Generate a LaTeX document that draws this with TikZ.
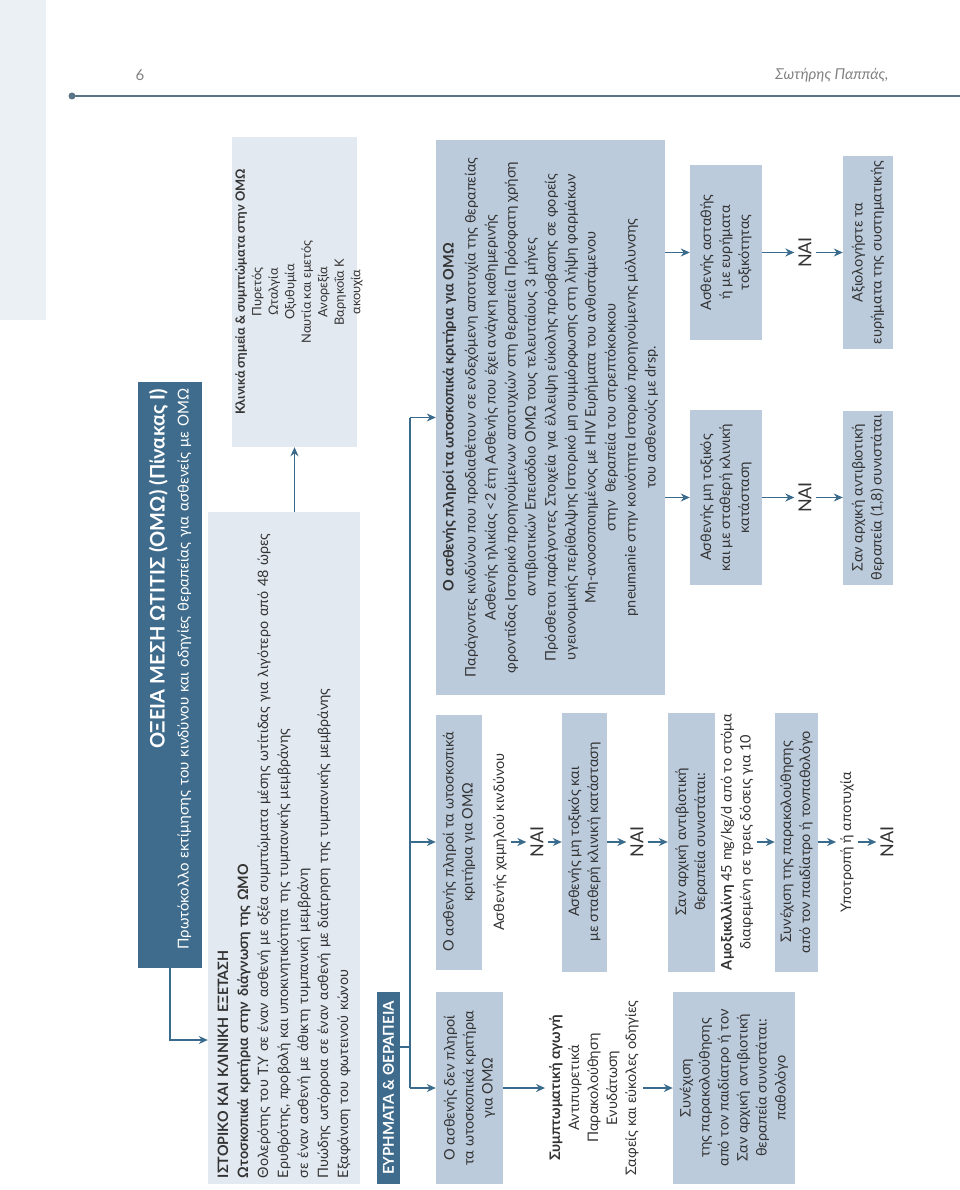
\documentclass[tikz,border=0pt]{standalone}
\usepackage{fontspec}
\setmainfont{Lato}
\usetikzlibrary{arrows.meta}

\definecolor{slate}{HTML}{3F6C8C}
\definecolor{flow}{HTML}{3A6B8C}
\definecolor{frost}{HTML}{BCCBDC}
\definecolor{mist}{HTML}{E3E9F0}
\definecolor{ink}{HTML}{333333}
\definecolor{rulec}{HTML}{5B7486}

\begin{document}
\begin{tikzpicture}[x=1pt,y=1pt,
  every node/.style={text=ink},
  card/.style={rotate=90,fill=frost,align=center,inner sep=0pt,font=\fontsize{14.5}{19}\selectfont},
  band/.style={rotate=90,fill=slate,text=white,inner sep=0pt},
  sheet/.style={rotate=90,fill=mist,inner sep=0pt},
  note/.style={rotate=90,align=center,inner sep=4pt,font=\fontsize{14.5}{19}\selectfont},
  yes/.style={rotate=90,inner sep=4pt,font=\fontsize{18}{20}\selectfont},
  link/.style={draw=flow,line width=1.4pt},
  arr/.style={link,-{Stealth[length=9pt,width=8pt]}}]
  \useasboundingbox (0,0) rectangle (960,-1190);
  \fill[mist!70] (0,0) rectangle (46,-320);
  \draw[rulec,line width=2.5pt] (72,-96) -- (960,-96);
  \fill[rulec] (72,-96) circle (3.5);
  \node[text=gray,font=\fontsize{15}{18}\selectfont] (page) at (140,-75) {6};
  \node[text=gray,font=\itshape\fontsize{15}{18}\selectfont,anchor=east] (author) at (892,-75) {Σωτήρης Παππάς,};

  \node[band,minimum width=586,minimum height=64,text width=572,align=right,font=\fontsize{15}{24}\selectfont] (title) at (170,-675)
    {{\fontsize{20}{24}\selectfont\bfseries ΟΞΕΙΑ ΜΕΣΗ ΩΤΙΤΙΣ (ΟΜΩ) (Πίνακας Ι)}\\
     Πρωτόκολλο εκτίμησης του κινδύνου και οδηγίες θεραπείας για ασθενείς με ΟΜΩ};
  \node[sheet,minimum width=672,minimum height=152,text width=660,align=left,font=\fontsize{14.3}{20}\selectfont] (hist) at (284,-848)
    {{\bfseries ΙΣΤΟΡΙΚΟ ΚΑΙ ΚΛΙΝΙΚΗ ΕΞΕΤΑΣΗ}\\
     {\bfseries Ωτοσκοπικά κριτήρια στην διάγνωση της ΩΜΟ}\\
     Θολερότης του Τ.Υ σε έναν ασθενή με οξέα συμπτώματα μέσης ωτίτιδας για λιγότερο από 48 ώρες\\
     Ερυθρότης, προβολή και υποκινητικότητα της τυμπανικής μεμβράνης\\
     σε έναν ασθενή με άθικτη τυμπανική μεμβράνη\\
     Πυώδης ωτόρροια σε έναν ασθενή με διάτρηση της τυμπανικής μεμβράνης\\
     Εξαφάνιση του φωτεινού κώνου};
  \node[sheet,minimum width=310,minimum height=125] (clin) at (294.5,-292) {};
  \node[rotate=90,align=center,inner sep=0pt,font=\fontsize{12.8}{16.5}\selectfont] (signs) at (299,-292)
    {{\bfseries Κλινικά σημεία \& συμπτώματα στην ΟΜΩ}\\ Πυρετός\\ Ωταλγία\\ Οξυθυμία\\
     Ναυτία και εμετός\\ Ανορεξία\\ Βαρηκοΐα Κ\\ ακουχία};
  \node[band,minimum width=192,minimum height=23,font=\fontsize{15}{18}\selectfont\bfseries] (find) at (388.5,-1088)
    {ΕΥΡΗΜΑΤΑ \& ΘΕΡΑΠΕΙΑ};

  \draw[arr] (title.west) |- (hist.north |- 0,-1040);
  \draw[arr] (clin.west |- hist.east) -- (clin.west);

  \node[card,minimum width=192,minimum height=67] (nocrit) at (469.5,-1088)
    {Ο ασθενής δεν πληροί\\ τα ωτοσκοπικά κριτήρια\\ για ΟΜΩ};
  \node[note] (sympt) at (594,-1088)
    {{\bfseries Συμπτωματική αγωγή}\\ Αντιπυρετικά\\ Παρακολούθηση\\ Ενυδάτωση\\ Σαφείς και εύκολες οδηγίες};
  \node[card,minimum width=192,minimum height=122] (cont2) at (734,-1088)
    {Συνέχιση\\ της παρακολούθησης\\ από τον παιδίατρο ή τον\\ Σαν αρχική αντιβιοτική\\ θεραπεία συνιστάται:\\ παθολόγο};

  \node[card,minimum width=255,minimum height=46] (crit) at (459,-842)
    {Ο ασθενής πληροί τα ωτοσκοπικά\\ κριτήρια για ΟΜΩ};
  \node[note] (low) at (500,-842) {Ασθενής χαμηλού κινδύνου};
  \node[yes] (yes1) at (537,-842) {ΝΑΙ};
  \node[card,minimum width=259,minimum height=45] (stab) at (584.5,-842)
    {Ασθενής μη τοξικός και\\ με σταθερή κλινική κατάσταση};
  \node[yes] (yes2) at (637,-842) {ΝΑΙ};
  \node[card,minimum width=259,minimum height=47] (abx) at (691.5,-842)
    {Σαν αρχική αντιβιοτική\\ θεραπεία συνιστάται:};
  \node[note] (amox) at (737,-842)
    {{\bfseries Αμοξικιλλίνη} 45 mg/kg/d από το στόμα\\ διαιρεμένη σε τρεις δόσεις για 10};
  \node[card,minimum width=259,minimum height=43] (cont) at (796.5,-842)
    {Συνέχιση της παρακολούθησης\\ από τον παιδίατρο ή τονπαθολόγο};
  \node[note] (fail) at (847,-842) {Υποτροπή ή αποτυχία};
  \node[yes] (yes3) at (887,-842) {ΝΑΙ};

  \node[card,minimum width=555,minimum height=229,font=\fontsize{14.5}{20}\selectfont] (big) at (550.5,-417.5)
    {{\bfseries Ο ασθενής πληροί τα ωτοσκοπικά κριτήρια για ΟΜΩ}\\[2pt]
     Παράγοντες κινδύνου που προδιαθέτουν σε ενδεχόμενη αποτυχία της θεραπείας\\
     Ασθενής ηλικίας <2 έτη Ασθενής που έχει ανάγκη καθημερινής\\
     φροντίδας Ιστορικό προηγούμενων αποτυχιών στη θεραπεία Πρόσφατη χρήση\\
     αντιβιοτικών Επεισόδιο ΟΜΩ τους τελευταίους 3 μήνες\\
     Πρόσθετοι παράγοντες Στοιχεία για έλλειψη εύκολης πρόσβασης σε φορείς\\
     υγειονομικής περίθαλψης Ιστορικό μη συμμόρφωσης στη λήψη φαρμάκων\\
     Μη-ανοσοποιημένος με HIV Ευρήματα του ανθιστάμενου\\
     στην\ \ θεραπεία του στρεπτόκοκκου\\
     pneumanie στην κοινότητα Ιστορικό προηγούμενης μόλυνσης\\
     του ασθενούς με drsp.};
  \node[card,minimum width=175,minimum height=72] (nontox) at (726,-497.5)
    {Ασθενής μη τοξικός\\ και με σταθερή κλινική\\ κατάσταση};
  \node[yes] (yes4) at (805,-497.5) {ΝΑΙ};
  \node[card,minimum width=174,minimum height=50] (abx2) at (868,-497.5)
    {Σαν αρχική αντιβιοτική\\ θεραπεία (1,8) συνιστάται};
  \node[card,minimum width=175,minimum height=72] (unst) at (726,-252.5)
    {Ασθενής ασταθής\\ ή με ευρήματα\\ τοξικότητας};
  \node[yes] (yes5) at (805,-252.5) {ΝΑΙ};
  \node[card,minimum width=193,minimum height=50] (eval) at (868,-252.5)
    {Αξιολογήστε τα\\ ευρήματα της συστηματικής};

  \coordinate (bus) at (410,-1047);
  \draw[link] (find.south |- bus) -- (bus);
  \draw[link] (bus |- big.north) -- (bus |- nocrit.north);
  \draw[arr] (bus |- big.north) -- (big.north);
  \draw[arr] (bus |- crit.north) -- (crit.north);
  \draw[arr] (bus |- nocrit.north) -- (nocrit.north);

  \draw[arr] (nocrit.south) -- (sympt.north);
  \draw[arr] (sympt.south) -- (cont2.north);

  \draw[arr] (low.south) -- (yes1.north);
  \draw[arr] (yes1.south) -- (stab.north);
  \draw[arr] (stab.south) -- (yes2.north);
  \draw[arr] (yes2.south) -- (abx.north);
  \draw[arr] (amox.south) -- (cont.north);
  \draw[arr] (cont.south) -- (fail.north);
  \draw[arr] (fail.south) -- (yes3.north);

  \draw[arr] (big.south |- nontox.north) -- (nontox.north);
  \draw[arr] (big.south |- unst.north) -- (unst.north);
  \draw[arr] (nontox.south) -- (yes4.north);
  \draw[arr] (yes4.south) -- (abx2.north);
  \draw[arr] (unst.south) -- (yes5.north);
  \draw[arr] (yes5.south) -- (eval.north);
\end{tikzpicture}
\end{document}
